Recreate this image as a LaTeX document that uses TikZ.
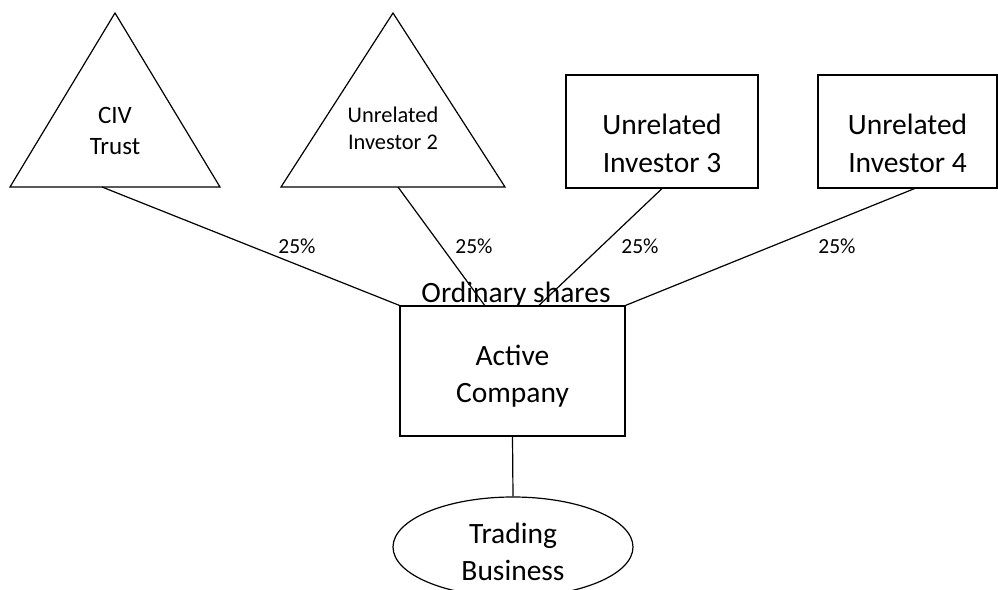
\documentclass[tikz,border=0pt]{standalone}
\usepackage{fontspec}
\setmainfont{Carlito}
\usetikzlibrary{shapes.geometric}

\begin{document}
\begin{tikzpicture}[x=1pt,y=-1pt,line width=1.2pt,
    bigtext/.style={font=\fontsize{29.5}{37.5}\selectfont,align=center,inner sep=0pt},
    pct/.style={font=\fontsize{21.5}{26}\selectfont,anchor=base,inner sep=0pt},
    holder/.style={draw,minimum width=#1,minimum height=113pt,inner sep=0pt}]

    \clip (0,0) rectangle (998,589);

    % Draw the two triangles on the left
    \draw (115,13) -- (10,187) -- (220,187) -- cycle;
    \node[font=\fontsize{25}{31}\selectfont,align=center,inner sep=0pt] (civ) at (115,131) {CIV\\Trust};
    \coordinate (civ foot) at (102,187);

    \draw (393,13) -- (281,187) -- (505,187) -- cycle;
    \node[font=\fontsize{22.4}{27}\selectfont,align=center,inner sep=0pt] (inv2) at (393,128) {Unrelated\\Investor 2};
    \coordinate (inv2 foot) at (398,187);

    % Draw the two boxes on the right
    \node[holder=192pt] (inv3) at (662,131.5) {};
    \node[bigtext] (inv3 text) at (662,143.5) {Unrelated\\Investor 3};

    \node[holder=179pt] (inv4) at (907.5,131.5) {};
    \node[bigtext] (inv4 text) at (907.5,143.5) {Unrelated\\Investor 4};
    \coordinate (inv4 foot) at (916,188);

    % Draw the company and the business below it
    \node[draw,minimum width=225pt,minimum height=130pt] (ac) at (512.5,371) {};
    \node[bigtext] (ac text) at (512.5,376) {Active\\Company};
    \node[draw,ellipse,minimum width=240pt,minimum height=100pt] (tb) at (513,547) {};
    \node[bigtext] (tb text) at (513,552) {Trading\\Business};

    \node[font=\fontsize{29.5}{37.5}\selectfont,anchor=base,inner sep=0pt] (shares) at (516,302) {Ordinary shares};

    % Lines from holders to the company
    \draw (civ foot) -- (ac.north west);
    \draw (inv2 foot) -- (ac.113);
    \draw (inv3.south) -- (ac.68.6);
    \draw (inv4 foot) -- (ac.north east);
    \draw (ac.south) -- (tb.north);

    \node[pct] (p1) at (297,253) {25\%};
    \node[pct] (p2) at (474,253) {25\%};
    \node[pct] (p3) at (640,253) {25\%};
    \node[pct] (p4) at (837,253) {25\%};
\end{tikzpicture}
\end{document}
